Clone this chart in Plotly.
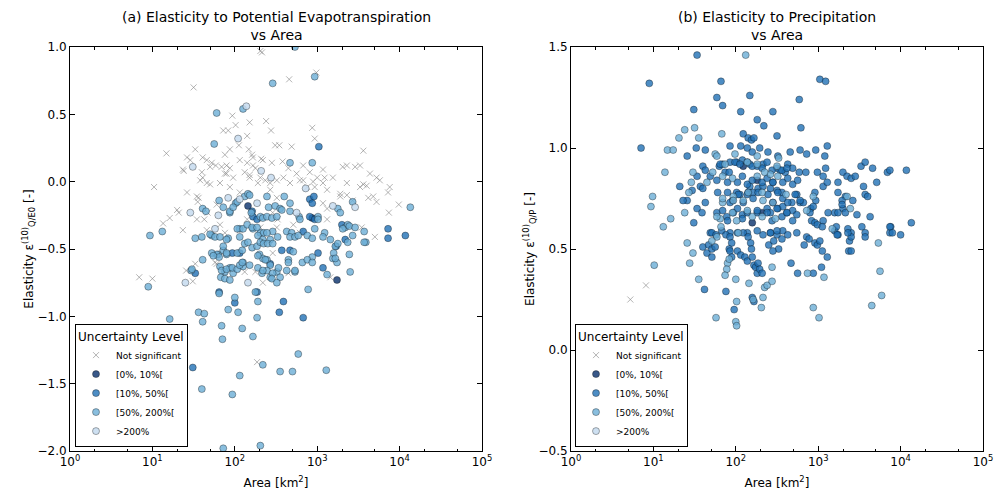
import numpy as np
import plotly.graph_objects as go

# ---------------- data: (log10 of catchment area [km2], elasticity) ----------------
# Panel (a): elasticity to potential evapotranspiration
pet_not_significant = [
    (2.31, 0.97), (2.33, 0.96), (2.99, 0.81), (2.66, 0.76), (1.50, 0.70), (1.97, 0.49), (2.18, 0.44),
    (2.38, 0.45), (2.94, 0.40), (2.44, 0.38), (2.01, 0.42), (1.86, 0.38), (1.92, 0.38), (2.15, 0.34),
    (2.97, 0.32), (2.49, 0.27), (2.54, 0.27), (2.69, 0.26), (1.17, 0.21), (1.52, 0.24), (3.56, 0.23),
    (2.05, 0.27), (1.88, 0.20), (1.94, 0.24), (1.42, 0.18), (1.46, 0.16), (2.17, 0.24), (2.21, 0.20),
    (2.22, 0.18), (2.32, 0.17), (2.45, 0.14), (1.61, 0.18), (1.66, 0.16), (1.72, 0.14), (1.77, 0.12),
    (1.84, 0.11), (1.90, 0.12), (1.38, 0.08), (3.36, 0.12), (3.46, 0.11), (3.52, 0.12), (3.19, 0.03),
    (3.64, 0.06), (3.72, 0.03), (3.76, 0.01), (1.66, -0.01), (1.70, -0.02), (1.02, -0.04), (1.58, 0.01),
    (1.61, 0.03), (1.90, 0.06), (1.98, 0.03), (2.12, 0.07), (2.18, 0.05), (2.25, 0.10), (2.31, 0.03),
    (2.37, 0.01), (2.43, -0.01), (2.51, 0.01), (2.59, 0.03), (2.67, -0.01), (2.79, 0.01), (2.88, -0.04),
    (2.95, 0.00), (3.07, -0.01), (3.09, 0.03), (3.28, -0.11), (3.36, -0.10), (3.43, -0.14), (3.52, -0.04),
    (3.60, -0.03), (3.68, -0.11), (3.72, -0.15), (3.86, -0.08), (3.88, -0.04), (3.99, -0.17), (3.87, -0.23),
    (1.30, -0.21), (1.32, -0.23), (1.13, -0.31), (1.21, -0.27), (1.54, -0.11), (1.55, -0.15), (1.63, -0.28),
    (1.67, -0.23), (1.82, -0.32), (1.88, -0.38), (2.15, -0.28), (2.22, -0.23), (2.31, -0.34), (2.46, -0.23),
    (2.52, -0.28), (2.71, -0.32), (2.79, -0.38), (3.07, -0.16), (3.12, -0.20), (0.84, -0.71), (1.00, -0.72),
    (1.41, -0.66), (1.52, -0.61), (1.49, -0.74), (1.76, -0.60), (1.78, -0.61), (2.12, -0.67), (2.25, -0.67),
    (2.34, -0.75), (2.46, -0.53), (2.65, -0.68), (2.27, -1.34), (3.70, -0.41), (1.37, 0.09), (1.60, 0.07),
    (1.70, 0.11), (1.88, 0.06), (1.94, 0.10), (2.06, 0.16), (2.15, 0.14), (2.22, 0.12), (2.34, 0.16),
    (2.58, 0.15), (2.65, 0.10), (2.75, 0.06), (2.83, 0.12), (2.91, 0.07), (3.00, 0.03), (3.07, 0.09),
    (3.31, 0.11), (3.62, -0.12), (3.56, -0.02), (3.36, -0.01), (3.28, -0.09), (3.12, -0.06), (2.97, -0.04),
    (2.83, 0.01), (2.43, -0.06), (2.28, -0.01), (2.18, 0.03), (2.06, -0.08), (1.94, -0.04), (1.82, -0.01),
    (1.56, -0.12), (1.42, -0.08), (1.54, -0.28), (1.66, -0.36), (1.37, -0.36), (3.16, -0.71), (3.54, -0.34),
    (2.06, -0.36), (2.51, -0.34), (1.78, -0.17), (2.51, -0.12), (3.12, -0.28),
]
pet_unc_0_10 = [(2.16, -0.18), (2.94, -0.27), (3.24, -0.73)]
pet_unc_10_50 = [
    (3.02, 0.26), (2.21, -0.22), (2.22, -0.26), (2.91, -0.13), (2.94, -0.16), (2.96, -0.11), (2.91, -0.26),
    (2.97, -0.28), (3.30, -0.32), (3.86, -0.35), (4.07, -0.40), (2.83, -0.37), (3.86, -0.42), (2.27, -0.28),
    (1.97, -0.53), (2.06, -0.53), (1.52, -0.68), (1.81, -0.82), (2.00, -0.90), (2.27, -0.82), (2.43, -0.61),
    (2.57, -0.51), (2.67, -0.51), (3.01, -0.53), (2.83, -1.01), (2.59, -0.89), (2.54, -0.97), (3.07, -0.64),
    (3.23, -0.48), (3.34, -0.43), (1.36, -1.31), (1.49, -1.38),
]
pet_unc_50_200 = [
    (2.73, 1.00), (2.46, 0.73), (2.97, 0.78), (1.78, 0.51), (2.10, 0.54), (1.75, 0.28), (2.67, 0.14),
    (2.94, 0.14), (4.13, -0.19), (3.43, -0.15), (3.25, -0.20), (3.28, -0.23), (0.97, -0.40), (1.12, -0.37),
    (1.61, -0.20), (1.65, -0.22), (1.81, -0.14), (1.86, -0.19), (1.94, -0.23), (2.01, -0.16), (2.12, -0.11),
    (2.16, -0.09), (2.39, -0.11), (2.41, -0.19), (2.49, -0.18), (2.55, -0.20), (2.60, -0.11), (2.67, -0.16),
    (2.78, -0.26), (3.01, -0.26), (3.34, -0.34), (3.37, -0.32), (3.57, -0.37), (3.09, -0.38), (2.63, -0.37),
    (2.69, -0.38), (2.46, -0.37), (2.22, -0.35), (2.31, -0.38), (2.35, -0.38), (2.06, -0.35), (1.92, -0.42),
    (1.72, -0.40), (1.52, -0.42), (2.03, -0.15), (2.18, -0.10), (1.94, -0.22), (1.98, -0.19), (2.20, -0.23),
    (2.31, -0.26), (2.34, -0.27), (2.39, -0.26), (2.45, -0.27), (2.51, -0.26), (2.57, -0.21), (2.67, -0.22),
    (2.79, -0.28), (3.01, -0.28), (1.60, -0.41), (1.70, -0.39), (1.76, -0.41), (1.82, -0.41), (1.90, -0.43),
    (2.03, -0.35), (2.06, -0.41), (2.10, -0.35), (2.15, -0.32), (2.21, -0.34), (2.27, -0.34), (2.28, -0.40),
    (2.34, -0.43), (2.39, -0.38), (2.43, -0.43), (2.52, -0.41), (2.67, -0.41), (2.73, -0.41), (2.77, -0.40),
    (2.88, -0.40), (2.94, -0.42), (2.97, -0.35), (3.07, -0.41), (3.16, -0.43), (3.22, -0.48), (3.31, -0.35),
    (3.39, -0.33), (3.46, -0.34), (3.59, -0.45), (1.80, -0.54), (1.86, -0.51), (1.90, -0.54), (2.03, -0.53),
    (2.09, -0.51), (2.10, -0.60), (2.21, -0.49), (2.30, -0.54), (2.34, -0.57), (2.39, -0.58), (2.43, -0.62),
    (2.65, -0.58), (2.71, -0.52), (2.82, -0.60), (2.94, -0.56), (3.19, -0.57), (3.24, -0.60), (1.47, -0.66),
    (1.82, -0.63), (1.88, -0.67), (1.94, -0.64), (1.98, -0.68), (2.10, -0.63), (2.18, -0.62), (2.28, -0.64),
    (2.33, -0.68), (2.39, -0.66), (2.43, -0.71), (2.51, -0.67), (2.55, -0.71), (2.63, -0.66), (2.73, -0.67),
    (1.86, -0.48), (1.78, -0.54), (1.81, -0.56), (1.72, -0.53), (1.74, -0.55), (1.61, -0.58), (1.48, -0.65),
    (0.95, -0.78), (1.81, -0.83), (2.00, -0.86), (2.25, -0.82), (2.28, -0.89), (2.12, -0.46), (2.16, -0.45),
    (2.27, -0.48), (2.31, -0.45), (2.35, -0.46), (2.40, -0.46), (2.46, -0.46), (2.28, -0.55), (2.37, -0.58),
    (2.34, -0.66), (2.53, -0.64), (2.46, -0.68), (2.45, -0.72), (2.51, -0.75), (2.65, -0.60), (2.73, -0.66),
    (2.88, -0.58), (2.94, -0.60), (2.89, -0.80), (2.27, -1.01), (2.22, -1.15), (2.09, -1.09), (2.04, -0.97),
    (1.92, -0.95), (1.84, -1.07), (1.85, -1.17), (1.56, -0.97), (1.63, -0.98), (1.61, -1.04), (1.21, -1.02),
    (1.60, -1.54), (2.06, -1.44), (1.97, -1.58), (2.34, -1.36), (2.55, -1.41), (2.70, -1.41), (2.77, -1.28),
    (3.11, -1.40), (1.86, -1.98), (2.31, -1.96), (3.12, -0.69), (3.20, -0.53), (3.22, -0.57), (3.25, -0.46),
    (3.37, -0.45), (3.39, -0.54), (3.40, -0.67), (3.43, -0.40), (3.57, -0.45), (1.84, -0.66), (1.90, -0.65),
    (1.83, -0.71), (1.88, -0.72), (1.94, -0.73), (1.97, -0.64), (2.03, -0.65), (2.06, -0.62), (2.09, -0.60),
    (1.90, -0.53),
]
pet_unc_over_200 = [
    (2.14, 0.56), (2.04, 0.32), (1.49, 0.11), (2.32, 0.08), (2.44, 0.03), (2.86, -0.05), (3.46, -0.19),
    (3.19, -0.18), (1.46, -0.23), (1.92, -0.12), (2.06, -0.13), (2.27, -0.16), (2.75, -0.23), (1.80, -0.25),
    (1.76, -0.35), (1.40, -0.75), (2.16, -0.75),
]

# Panel (b): elasticity to precipitation
p_not_significant = [(0.72, 0.25), (0.91, 0.32)]
p_unc_0_10 = [
    (2.09, 0.91), (2.26, 0.84), (2.15, 0.78), (2.32, 0.68), (1.96, 0.74), (2.45, 0.73), (2.20, 0.63),
]
p_unc_10_50 = [
    (1.53, 1.46), (0.95, 1.32), (1.82, 1.33), (3.02, 1.34), (3.09, 1.33), (2.17, 1.26), (1.77, 1.25),
    (1.84, 1.21), (2.77, 1.24), (1.49, 1.19), (2.06, 1.18), (2.45, 1.18), (2.26, 1.14), (2.34, 1.11),
    (2.79, 1.10), (2.09, 1.07), (2.15, 1.05), (2.19, 1.04), (2.22, 1.05), (2.50, 1.06), (0.85, 1.00),
    (1.52, 1.00), (1.63, 0.99), (1.93, 1.01), (2.06, 1.01), (2.14, 1.00), (2.29, 1.00), (2.97, 0.99),
    (3.11, 1.01), (2.78, 0.99), (2.66, 0.98), (1.41, 0.96), (2.20, 0.98), (2.39, 0.98), (2.51, 0.96),
    (2.86, 0.97), (3.08, 0.96), (1.53, 0.86), (1.60, 0.91), (1.63, 0.89), (1.80, 0.91), (1.84, 0.92),
    (1.87, 0.88), (1.92, 0.88), (2.01, 0.93), (2.08, 0.94), (2.14, 0.93), (2.17, 0.92), (2.26, 0.91),
    (2.33, 0.92), (2.50, 0.90), (2.54, 0.89), (2.60, 0.88), (2.63, 0.92), (2.69, 0.90), (2.77, 0.88),
    (2.85, 0.88), (2.99, 0.88), (3.06, 0.86), (3.09, 0.90), (3.30, 0.88), (3.35, 0.86), (3.40, 0.85),
    (3.45, 0.86), (3.52, 0.91), (3.57, 0.93), (3.66, 0.90), (3.71, 0.83), (3.84, 0.88), (3.87, 0.89),
    (4.07, 0.89), (3.55, 0.81), (3.57, 0.77), (3.60, 0.76), (3.33, 0.76), (3.24, 0.78), (3.29, 0.74),
    (3.42, 0.74), (3.24, 0.83), (3.06, 0.81), (3.11, 0.83), (2.96, 0.78), (2.97, 0.74), (3.30, 0.70),
    (3.33, 0.68), (3.47, 0.67), (3.63, 0.66), (3.20, 0.68), (3.24, 0.68), (3.29, 0.72), (3.12, 0.68),
    (3.06, 0.64), (4.13, 0.63), (3.88, 0.61), (3.87, 0.58), (4.00, 0.57), (3.53, 0.61), (3.57, 0.58),
    (3.40, 0.58), (3.36, 0.60), (3.20, 0.59), (2.78, 0.73), (2.82, 0.73), (2.91, 0.70), (2.94, 0.71),
    (2.74, 0.77), (2.90, 0.68), (2.92, 0.64), (2.96, 0.63), (2.99, 0.62), (3.05, 0.61), (1.32, 0.81),
    (1.47, 0.79), (1.41, 0.74), (1.36, 0.74), (1.49, 0.63), (1.53, 0.70), (1.59, 0.68), (1.63, 0.73),
    (1.57, 0.81), (1.60, 0.80), (1.69, 0.86), (1.77, 0.68), (1.89, 0.66), (1.97, 0.68), (2.08, 0.67),
    (2.26, 0.68), (2.38, 0.70), (2.42, 0.68), (2.51, 0.70), (2.57, 0.71), (2.62, 0.68), (2.68, 0.73),
    (2.69, 0.69), (1.93, 0.73), (2.01, 0.78), (2.05, 0.77), (2.14, 0.77), (2.17, 0.81), (2.21, 0.78),
    (2.27, 0.80), (2.33, 0.81), (2.42, 0.80), (2.45, 0.83), (2.50, 0.79), (2.56, 0.78), (1.69, 0.58),
    (1.83, 0.59), (1.93, 0.58), (2.14, 0.58), (2.26, 0.59), (2.33, 0.57), (2.42, 0.58), (2.50, 0.57),
    (2.57, 0.59), (2.63, 0.57), (2.74, 0.58), (2.86, 0.56), (1.60, 0.51), (1.65, 0.48), (1.67, 0.52),
    (1.71, 0.50), (1.75, 0.51), (1.71, 0.46), (1.62, 0.30), (1.71, 0.58), (1.76, 0.57), (1.88, 0.57),
    (1.93, 0.56), (1.95, 0.53), (1.92, 0.50), (1.93, 0.49), (1.95, 0.46), (1.88, 0.29), (1.98, 0.20),
    (2.02, 0.49), (2.06, 0.47), (2.11, 0.46), (2.14, 0.44), (2.02, 0.58), (2.09, 0.58), (2.15, 0.56),
    (2.18, 0.53), (2.19, 0.50), (2.20, 0.46), (2.22, 0.42), (2.24, 0.41), (2.26, 0.38), (2.27, 0.43),
    (2.29, 0.40), (2.32, 0.38), (2.20, 0.26), (2.22, 0.24), (2.40, 0.52), (2.42, 0.58), (2.46, 0.54),
    (2.50, 0.59), (2.52, 0.50), (2.56, 0.55), (2.67, 0.43), (2.75, 0.38), (2.94, 0.38), (3.04, 0.41),
    (3.05, 0.49), (3.11, 0.46), (2.83, 0.52), (2.89, 0.55), (2.96, 0.53), (2.99, 0.52), (3.02, 0.54),
    (3.57, 0.56), (3.24, 0.57), (3.37, 0.49), (3.40, 0.49), (3.38, 0.54), (3.40, 0.56), (2.45, 0.49),
    (3.22, 0.61), (3.23, 0.57), (3.36, 0.58), (3.87, 0.61), (3.90, 0.58),
    (1.81, 0.92), (1.93, 0.93), (1.99, 0.93), (2.05, 0.92), (2.20, 0.91), (2.32, 0.90), (2.38, 0.93),
    (2.44, 0.89), (2.56, 0.89), (2.62, 0.90), (1.77, 0.84), (1.90, 0.83), (2.02, 0.83), (2.08, 0.86),
    (2.14, 0.82), (2.20, 0.84), (2.32, 0.83), (2.38, 0.85), (2.45, 0.83), (2.57, 0.83), (2.63, 0.85),
    (2.69, 0.82), (2.75, 0.84), (1.78, 0.78), (1.90, 0.78), (2.03, 0.77), (2.09, 0.73), (2.21, 0.75),
    (2.27, 0.78), (2.39, 0.77), (2.51, 0.78), (2.57, 0.75), (2.63, 0.73), (2.72, 0.77), (2.78, 0.74),
    (1.84, 0.69), (1.90, 0.64), (2.02, 0.70), (2.08, 0.65), (2.14, 0.68), (2.26, 0.69), (2.38, 0.68),
    (2.44, 0.64), (2.50, 0.70), (2.56, 0.66), (2.62, 0.68), (2.69, 0.64), (2.74, 0.67),
]
p_unc_50_200 = [
    (2.12, 1.46), (1.38, 1.09), (1.50, 1.10), (1.31, 1.05), (1.55, 1.05), (1.83, 1.07), (1.17, 0.99),
    (1.24, 0.99), (1.75, 0.97), (1.77, 0.96), (1.99, 0.97), (1.14, 0.88), (1.48, 0.88), (1.46, 0.83),
    (0.99, 0.76), (0.97, 0.71), (1.12, 0.61), (1.21, 0.65), (1.38, 0.68), (1.43, 0.78), (1.01, 0.42),
    (1.41, 0.53), (1.48, 0.48), (1.44, 0.43), (1.55, 0.35), (1.76, 0.16), (1.90, 0.43), (1.89, 0.40),
    (1.87, 0.37), (2.00, 0.14), (2.01, 0.12), (2.01, 0.24), (2.00, 0.35), (2.16, 0.33), (2.21, 0.25),
    (2.33, 0.26), (2.31, 0.21), (2.35, 0.31), (2.38, 0.32), (2.44, 0.34), (2.87, 0.38), (2.94, 0.21),
    (3.01, 0.16), (3.07, 0.36), (3.73, 0.53), (3.75, 0.39), (3.65, 0.22), (3.77, 0.27), (1.92, 0.45),
    (2.44, 0.41), (2.26, 0.96), (2.52, 0.95), (2.42, 0.87), (1.65, 0.83), (1.81, 0.65), (2.01, 0.64),
    (2.20, 0.66), (2.48, 0.65), (1.77, 0.56), (2.03, 0.58), (2.14, 0.69), (2.32, 0.78), (1.97, 0.76),
    (2.09, 0.74), (2.61, 0.77), (2.94, 0.76), (3.35, 0.76), (3.17, 0.60), (3.39, 0.70), (2.86, 0.69),
    (1.84, 0.73), (1.72, 0.88), (2.35, 0.88), (1.87, 0.92), (2.14, 0.93), (2.26, 0.92), (2.50, 0.91),
    (1.84, 0.86), (1.96, 0.85), (2.26, 0.86), (2.51, 0.86), (1.84, 0.75), (1.97, 0.74), (2.15, 0.78),
    (2.33, 0.74), (2.45, 0.73), (1.77, 0.66), (1.96, 0.68), (2.32, 0.66), (1.71, 0.54), (1.82, 0.61),
]
p_unc_over_200 = []

X_TICKS = [1, 10, 100, 1000, 10000, 100000]
X_TICK_TEXT = ["10<sup>0</sup>", "10<sup>1</sup>", "10<sup>2</sup>", "10<sup>3</sup>",
               "10<sup>4</sup>", "10<sup>5</sup>"]
CATEGORY_NAMES = ["Not significant", "[0%, 10%[", "[10%, 50%[", "[50%, 200%[", ">200%"]

FONT = "DejaVu Sans"
FILLS = ["rgba(8,48,107,0.8)", "rgba(33,113,181,0.8)", "rgba(107,174,214,0.8)", "rgba(198,219,239,0.85)"]

fig = go.Figure()


def add_panel(groups, xaxis, yaxis, legend):
    ns = groups[0]
    fig.add_trace(go.Scatter(
        x=10 ** np.array([p[0] for p in ns], dtype=float),
        y=[p[1] for p in ns], mode="markers", name=CATEGORY_NAMES[0],
        xaxis=xaxis, yaxis=yaxis, legend=legend,
        marker=dict(symbol="x-thin", size=6, color="rgba(130,130,130,0.6)",
                    line=dict(color="rgba(130,130,130,0.6)", width=1))))
    for k, g in enumerate(groups[1:]):
        fig.add_trace(go.Scatter(
            x=10 ** np.array([p[0] for p in g], dtype=float) if g else [None],
            y=[p[1] for p in g] if g else [None], mode="markers", name=CATEGORY_NAMES[k + 1],
            xaxis=xaxis, yaxis=yaxis, legend=legend,
            marker=dict(symbol="circle", size=7, color=FILLS[k],
                        line=dict(color="rgba(0,0,0,0.55)", width=0.6))))


add_panel([pet_not_significant, pet_unc_0_10, pet_unc_10_50, pet_unc_50_200, pet_unc_over_200],
          "x", "y", "legend")
add_panel([p_not_significant, p_unc_0_10, p_unc_10_50, p_unc_50_200, p_unc_over_200],
          "x2", "y2", "legend2")

W, H = 995, 496
ydom = [(H - 451) / H, (H - 47) / H]

xaxis_common = dict(type="log", range=[0, 5], tickvals=X_TICKS, ticktext=X_TICK_TEXT,
                    ticks="inside", ticklen=5, tickcolor="black", showline=True, linecolor="black",
                    linewidth=1, mirror="ticks", showgrid=False, zeroline=False, automargin=False,
                    tickfont=dict(family=FONT, size=12, color="black"),
                    minor=dict(ticks="inside", ticklen=2.5, tickcolor="black", showgrid=False),
                    title=dict(text="Area [km<sup>2</sup>]", font=dict(family=FONT, size=12, color="black"),
                               standoff=10))
yaxis_common = dict(ticks="inside", ticklen=5, tickcolor="black", showline=True, linecolor="black",
                    linewidth=1, mirror="ticks", showgrid=False, zeroline=False, dtick=0.5,
                    automargin=False, tickformat=".1f", tickfont=dict(family=FONT, size=12, color="black"))

legend_common = dict(y=(H - 447) / H, xanchor="left", yanchor="bottom",
                     bgcolor="white", bordercolor="black", borderwidth=1,
                     font=dict(family=FONT, size=9, color="black"),
                     title=dict(text="Uncertainty Level", font=dict(family=FONT, size=12, color="black")),
                     tracegroupgap=0)

fig.update_layout(
    width=W, height=H, margin=dict(l=0, r=0, t=0, b=0, autoexpand=False),
    paper_bgcolor="white", plot_bgcolor="white",
    font=dict(family=FONT, color="black"),
    xaxis=dict(domain=[70 / W, 482 / W], anchor="y", **xaxis_common),
    xaxis2=dict(domain=[571 / W, 983 / W], anchor="y2", **xaxis_common),
    yaxis=dict(domain=ydom, anchor="x", range=[-2, 1],
               title=dict(text="Elasticity ε<sup>(10)</sup><sub>Q/E0</sub> [-]",
                          font=dict(family=FONT, size=12, color="black"), standoff=1),
               **yaxis_common),
    yaxis2=dict(domain=ydom, anchor="x2", range=[-0.5, 1.5],
                title=dict(text="Elasticity ε<sup>(10)</sup><sub>Q/P</sub> [-]",
                           font=dict(family=FONT, size=12, color="black"), standoff=1),
                **yaxis_common),
    legend=dict(x=75 / W, **legend_common),
    legend2=dict(x=575 / W, **legend_common),
    annotations=[
        dict(text="(a) Elasticity to Potential Evapotranspiration<br>vs Area", xref="x domain",
             yref="y domain", x=0.5, y=1, xanchor="center", yanchor="bottom", yshift=2,
             showarrow=False, font=dict(family=FONT, size=14, color="black")),
        dict(text="(b) Elasticity to Precipitation<br>vs Area", xref="x2 domain",
             yref="y2 domain", x=0.5, y=1, xanchor="center", yanchor="bottom", yshift=2,
             showarrow=False, font=dict(family=FONT, size=14, color="black")),
    ],
)

fig.write_html("out.html")
